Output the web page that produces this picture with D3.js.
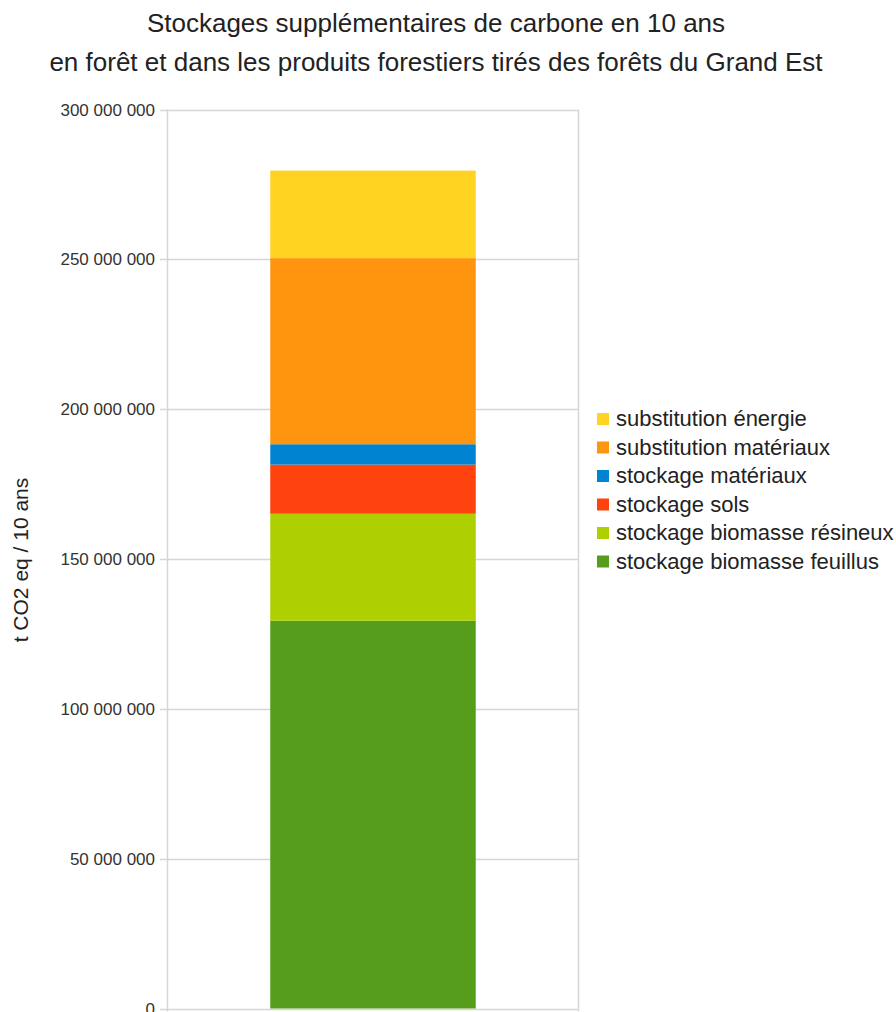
<!DOCTYPE html>
<html><head><meta charset="utf-8">
<script src="https://cdn.jsdelivr.net/npm/d3@7"></script>
<style>body{margin:0;background:#fff;}svg{display:block;font-family:"Liberation Sans",Arial,sans-serif;}</style>
</head><body>
<svg id="c" width="896" height="1012"></svg>
<script>
const categories = ["Grand Est"];
const seriesNames = ["stockage biomasse feuillus","stockage biomasse résineux","stockage sols","stockage matériaux","substitution matériaux","substitution énergie"];
const seriesValues = [129400000, 35700000, 16400000, 6800000, 62100000, 29200000];
const seriesColors = ["#579d1c","#aecf00","#ff420e","#0084d1","#ff950e","#ffd320"];
const yTicks = [0,50000000,100000000,150000000,200000000,250000000,300000000];
const titleLines = ["Stockages supplémentaires de carbone en 10 ans","en forêt et dans les produits forestiers tirés des forêts du Grand Est"];
const yLabel = "t CO2 eq / 10 ans";

const svg = d3.select("#c");
const L=167.5, R=578.5, T=109.5, B=1008.5;
const y = d3.scaleLinear().domain([0,300000000]).range([B,T]);
const x = d3.scaleBand().domain(categories).range([L,R]).paddingInner(0.5).paddingOuter(0.25);
const fmt = v => d3.format(",")(v).replace(/,/g," ");

// gridlines
svg.append("g").selectAll("line").data(yTicks).join("line")
  .attr("x1",160).attr("x2",R).attr("y1",d=>Math.round(y(d))+0.5).attr("y2",d=>Math.round(y(d))+0.5)
  .attr("stroke","#d6d6d6").attr("stroke-width",1.5);
svg.append("line").attr("x1",L).attr("x2",L).attr("y1",T).attr("y2",B+3).attr("stroke","#d6d6d6").attr("stroke-width",1.5);
svg.append("line").attr("x1",R).attr("x2",R).attr("y1",T).attr("y2",B+3).attr("stroke","#d6d6d6").attr("stroke-width",1.5);

// tick labels
svg.append("g").selectAll("text").data(yTicks).join("text")
  .attr("x",155).attr("y",d=>y(d)+6).attr("text-anchor","end")
  .attr("font-size",17).attr("fill","#333").text(fmt);

// stacked bar
let cum=0;
const stacked = seriesValues.map((v,i)=>{const s={y0:cum,y1:cum+v,c:seriesColors[i]};cum+=v;return s;});
svg.append("g").selectAll("rect").data(stacked).join("rect")
  .attr("x",x(categories[0])).attr("width",x.bandwidth())
  .attr("y",d=>y(d.y1)).attr("height",d=>y(d.y0)-y(d.y1))
  .attr("fill",d=>d.c);

// title
svg.append("g").selectAll("text").data(titleLines).join("text")
  .attr("x",436).attr("y",(d,i)=>32+i*39).attr("text-anchor","middle")
  .attr("font-size",26).attr("fill","#222").text(d=>d);

// y label
svg.append("text").attr("transform","translate(28,560) rotate(-90)")
  .attr("text-anchor","middle").attr("font-size",21).attr("fill","#222").text(yLabel);

// legend (reverse order)
const leg = svg.append("g");
const legItems = seriesNames.map((n,i)=>({n,c:seriesColors[i]})).reverse();
leg.selectAll("rect").data(legItems).join("rect")
  .attr("x",597).attr("y",(d,i)=>413+i*28.5).attr("width",12).attr("height",12).attr("fill",d=>d.c);
leg.selectAll("text").data(legItems).join("text")
  .attr("x",616).attr("y",(d,i)=>426+i*28.5).attr("font-size",22).attr("fill","#222").text(d=>d.n);
</script>
</body></html>
